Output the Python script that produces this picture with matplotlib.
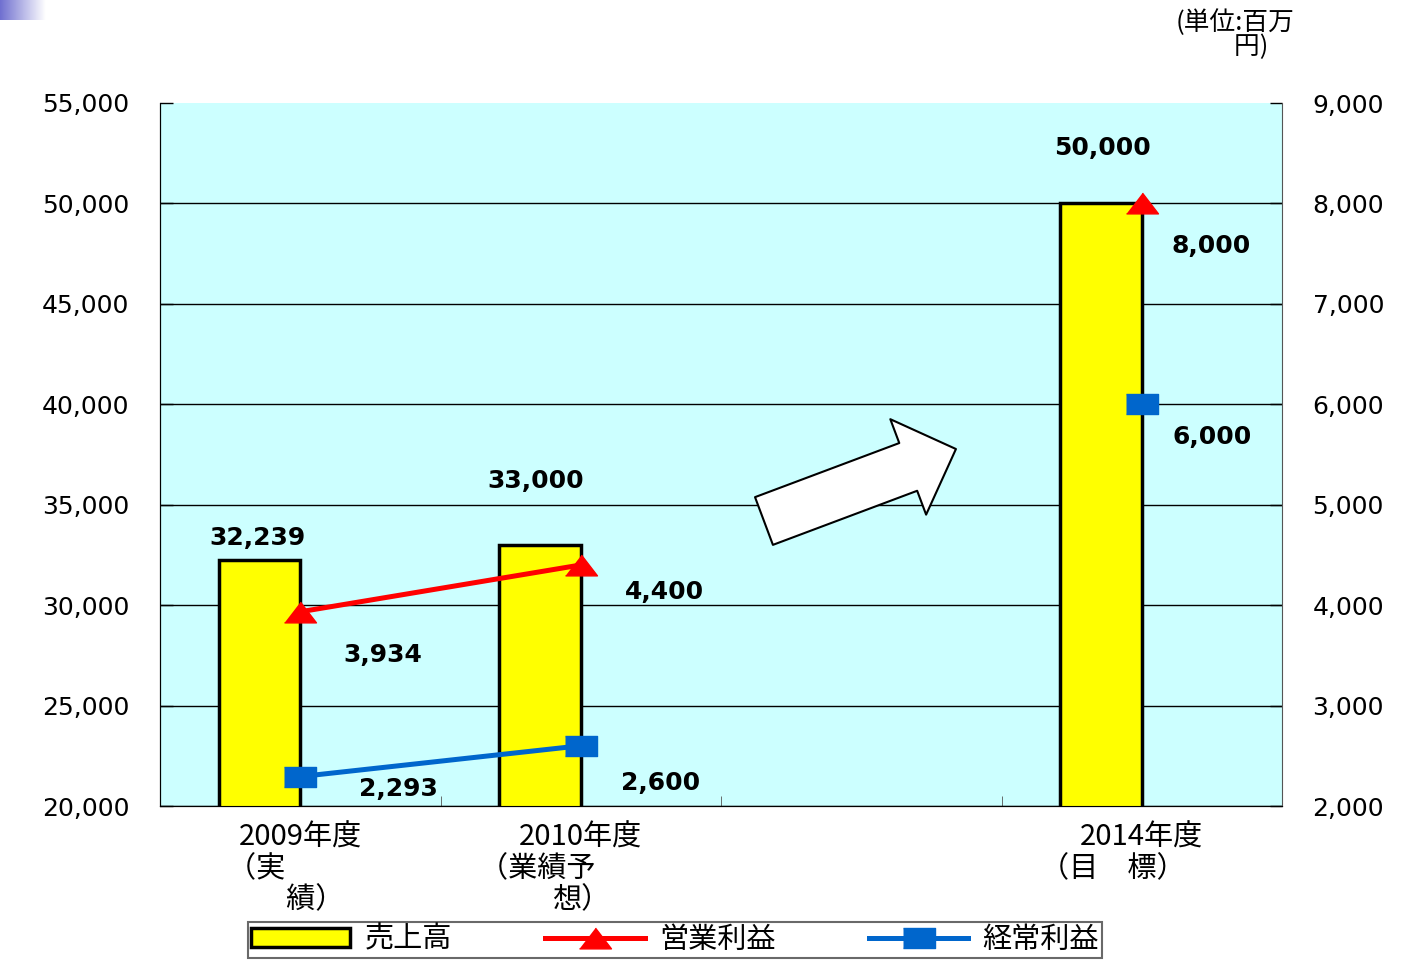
import numpy as np
import matplotlib
matplotlib.use("Agg")
import matplotlib.pyplot as plt
from matplotlib.lines import Line2D
from matplotlib.patches import Patch
from matplotlib.colors import LinearSegmentedColormap

plt.rcParams['font.family'] = ['Noto Sans CJK JP', 'DejaVu Sans']

# データ
categories = ["2009年度\n（実　　　\n　績）",
              "2010年度\n（業績予　　　\n想）",
              "",
              "2014年度\n（目　標）　　"]
sales = [32239, 33000, np.nan, 50000]       # 売上高（左軸）
op_profit = [3934, 4400, np.nan, 8000]      # 営業利益（右軸）
ord_profit = [2293, 2600, np.nan, 6000]     # 経常利益（右軸）
legend_names = ["売上高", "営業利益", "経常利益"]
left_ticks = np.arange(20000, 55001, 5000)
right_ticks = np.arange(2000, 9001, 1000)

# ラベル位置（ピクセルオフセット）
sales_offsets = [(-2, 22), (-4, 64), None, (1, 55)]
op_offsets = [(83, -43), (84, -27), None, (69, -43)]
ord_offsets = [(98, -12), (80, -37), None, (70, -33)]

W, H = 1409, 963
NUM_FONT = 'DejaVu Sans'
tri = [(-1, -0.65), (1, -0.65), (0, 0.65)]
sq = [(-1, -0.6), (1, -0.6), (1, 0.6), (-1, 0.6)]

fig = plt.figure(figsize=(W / 100, H / 100), dpi=100)
ax = fig.add_axes([160 / W, 1 - 806 / H, 1122 / W, 703 / H])
ax.set_facecolor('#CCFFFF')

x = np.arange(len(categories))
bar_w = 0.29
ax.bar(x - bar_w / 2, sales, width=bar_w, color='#FFFF00',
       edgecolor='black', linewidth=2.5, zorder=3)
ax.set_xlim(-0.5, len(categories) - 0.5)
ax.set_ylim(left_ticks[0], left_ticks[-1])
ax.set_yticks(left_ticks)
ax.set_yticklabels([f"{v:,}" for v in left_ticks], family=NUM_FONT, fontsize=18)
ax.tick_params(axis='y', direction='in', length=9, width=1, pad=22)
ax.yaxis.grid(True, color='black', linewidth=1)
ax.set_axisbelow(True)
ax.yaxis.get_major_ticks()[-1].gridline.set_visible(False)

ax.set_xticks(x)
ax.set_xticklabels(categories, fontsize=21, multialignment='center', linespacing=1.05)
ax.set_xticks(x[:-1] + 0.5, minor=True)
ax.tick_params(axis='x', which='major', length=0, pad=12)
ax.tick_params(axis='x', which='minor', direction='in', length=7, color='#555555')
ax.spines['top'].set_visible(False)
ax.spines['right'].set_visible(False)

for xi, v, off in zip(x, sales, sales_offsets):
    if off is None:
        continue
    ax.annotate(f"{v:,}", (xi - bar_w / 2, v), xytext=off, textcoords='offset pixels',
                ha='center', va='center', family=NUM_FONT, fontweight='bold', fontsize=18)

# 右軸
ax2 = ax.twinx()
ax2.set_ylim(right_ticks[0], right_ticks[-1])
ax2.set_yticks(right_ticks)
ax2.set_yticklabels([f"{v:,}" for v in right_ticks], family=NUM_FONT, fontsize=18)
ax2.tick_params(axis='y', direction='in', length=9, width=1, pad=22)
ax2.spines['top'].set_visible(False)
ax2.spines['right'].set_color('#555555')

ax2.plot(x, op_profit, color='#FF0000', lw=3.6, marker=tri, markersize=23, zorder=4)
ax2.plot(x, ord_profit, color='#0066CC', lw=3.6, marker=sq, markersize=23, zorder=4)

for vals, offs in ((op_profit, op_offsets), (ord_profit, ord_offsets)):
    for xi, v, off in zip(x, vals, offs):
        if off is None:
            continue
        ax2.annotate(f"{v:,}", (xi, v), xytext=off, textcoords='offset pixels',
                     ha='center', va='center', family=NUM_FONT, fontweight='bold', fontsize=18)

# 矢印
ax2.annotate("", xy=(0.7094, 0.5078), xytext=(0.5383, 0.4054),
             xycoords='axes fraction', textcoords='axes fraction',
             arrowprops=dict(arrowstyle='simple,head_length=1.0,head_width=2.0,tail_width=1.0',
                             mutation_scale=36.7, fc='white', ec='black', lw=1.5,
                             shrinkA=0, shrinkB=0), zorder=6)

# 単位
fig.text(1294 / W, 1 - 9 / H, "(単位:百万\n円)　", ha='right', va='top',
         multialignment='right', fontsize=18.5, linespacing=0.9)

# 凡例
handles = [Patch(facecolor='#FFFF00', edgecolor='black', linewidth=2.5),
           Line2D([], [], color='#FF0000', lw=3.6, marker=tri, markersize=23),
           Line2D([], [], color='#0066CC', lw=3.6, marker=sq, markersize=23)]
leg = fig.legend(handles, legend_names, loc='upper left', bbox_to_anchor=(248 / W, 1 - 922 / H),
                 ncol=3, fontsize=21, frameon=True, fancybox=False, edgecolor='#444444',
                 handlelength=3.4, handleheight=0.6, handletextpad=0.5, columnspacing=3.2,
                 borderpad=0.1, borderaxespad=0)
leg.get_frame().set_linewidth(1.5)

# 左上のグラデーション
gax = fig.add_axes([0, 1 - 20 / H, 45 / W, 20 / H])
gax.imshow(np.linspace(0, 1, 100).reshape(1, -1), aspect='auto',
           cmap=LinearSegmentedColormap.from_list('grad', ['#7070D0', '#FFFFFF']))
gax.axis('off')

fig.savefig('out.png', dpi=100)
